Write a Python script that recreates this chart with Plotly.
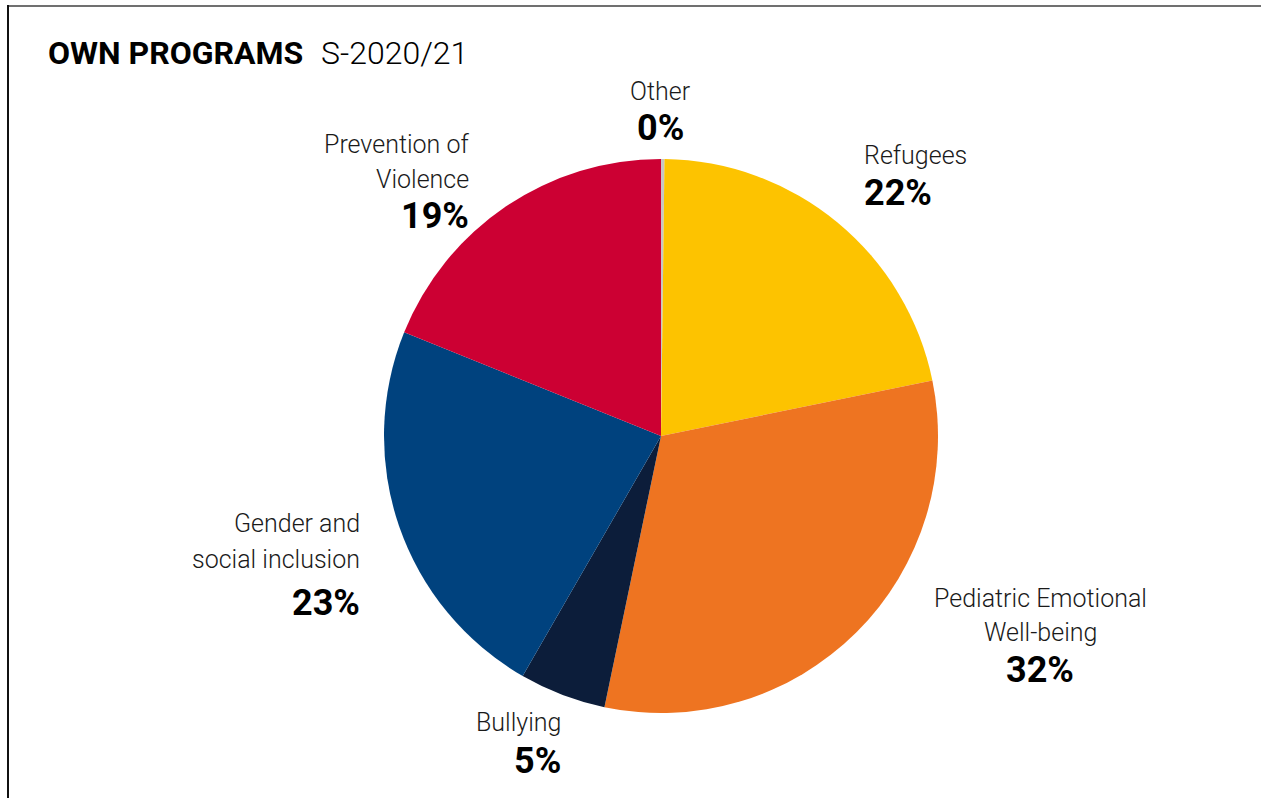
import plotly.graph_objects as go

W, H = 1261, 798

categories = ["Other", "Refugees", "Pediatric Emotional Well-being", "Bullying",
              "Gender and social inclusion", "Prevention of Violence"]
values = [0.2, 21.6, 31.5, 5.05, 22.8, 18.9]
colors = ["#C6C6C6", "#FDC300", "#EE7421", "#0C1D3A", "#00427E", "#CC0033"]
pct_labels = ["0%", "22%", "32%", "5%", "23%", "19%"]
name_lines = [["Other"], ["Refugees"], ["Pediatric Emotional", "Well-being"], ["Bullying"],
              ["Gender and", "social inclusion"], ["Prevention of", "Violence"]]

# label layout (pixel anchors): x, anchor, y of each name line, y of percent
label_pos = [
    (660, "center", [91], 128),
    (862, "left", [155], 193),
    (1040, "center", [598, 632], 670),
    (563, "right", [722], 761),
    (362, "right", [523, 559], 603),
    (471, "right", [144, 179], 216),
]

cx, cy, r = 661, 436, 277

def px(x):
    return x / W

def py(y):
    return 1 - y / H

fig = go.Figure(go.Pie(
    labels=categories, values=values, sort=False, direction="clockwise", rotation=0,
    marker=dict(colors=colors, line=dict(width=0)), textinfo="none", hoverinfo="label+percent",
    domain=dict(x=[px(cx - r), px(cx + r)], y=[py(cy + r), py(cy - r)]),
    showlegend=False,
))

FONT = "Roboto"
ann = []
for (x, anchor, ys, yp), lines, pct in zip(label_pos, name_lines, pct_labels):
    for line, yy in zip(lines, ys):
        ann.append(dict(x=px(x), y=py(yy), xref="paper", yref="paper", text=line,
                        showarrow=False, xanchor=anchor, yanchor="middle",
                        font=dict(family=FONT, size=25, color="#1a1a1a", weight=300)))
    ann.append(dict(x=px(x), y=py(yp), xref="paper", yref="paper", text="<b>%s</b>" % pct,
                    showarrow=False, xanchor=anchor, yanchor="middle",
                    font=dict(family=FONT, size=36, color="#000000")))

ann.append(dict(x=px(46), y=py(53), xref="paper", yref="paper",
                text="<b>OWN PROGRAMS</b>",
                showarrow=False, xanchor="left", yanchor="middle",
                font=dict(family=FONT, size=32, color="#000000")))
ann.append(dict(x=px(319), y=py(53), xref="paper", yref="paper",
                text="S-2020/21",
                showarrow=False, xanchor="left", yanchor="middle",
                font=dict(family=FONT, size=32, color="#000000", weight=300)))

shapes = [
    dict(type="line", xref="paper", yref="paper", x0=px(8), x1=1, y0=py(6), y1=py(6),
         line=dict(color="#707070", width=2)),
    dict(type="line", xref="paper", yref="paper", x0=px(8), x1=px(8), y0=py(5), y1=0,
         line=dict(color="#111111", width=2)),
]

fig.update_layout(width=W, height=H, margin=dict(l=0, r=0, t=0, b=0),
                  paper_bgcolor="white", plot_bgcolor="white",
                  annotations=ann, shapes=shapes)

fig.write_html("out.html")
